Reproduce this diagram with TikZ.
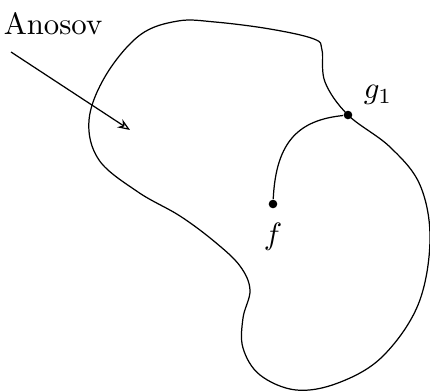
\documentclass[tikz,border=0pt]{standalone}
\usepackage{amsmath,amssymb}
\usepackage{tikz}
\usetikzlibrary{arrows.meta,positioning}

\begin{document}
\begin{tikzpicture}[x=0.325pt, y=-0.325pt,
    dot/.style={circle, fill=black, inner sep=0pt, minimum size=2.8pt},
    arr/.style={-{Stealth[length=1.4mm, width=1.1mm, open]}}]
    \useasboundingbox (0,0) rectangle (430,391);
    % the region
    \draw plot[smooth cycle, tension=0.6] coordinates {
        (215,22) (270,29) (314,39) (322,50) (325,82) (348,115)
        (390,147) (420,185) (430,240) (418,305) (382,357) (338,383)
        (296,390) (260,375) (243,348) (243,318) (250,290) (240,266)
        (215,242) (180,216) (138,192) (99,160) (89,120) (106,75)
        (140,35) (178,21)};
    % path from f to g1
    \node[dot] (f) at (273,204) {};
    \node[dot] (g1) at (348,115) {};
    \draw (f) .. controls (276,140) and (300,120) .. (g1);
    \node[below=1pt of f] (fl) {$f$};
    \node (gl) at (378,95) {$g_1$};
    % label
    \node (anosov) at (53,24) {Anosov};
    \coordinate (a0) at (11,52);
    \coordinate (a1) at (130,130);
    \draw[arr] (a0) -- (a1);
\end{tikzpicture}
\end{document}
